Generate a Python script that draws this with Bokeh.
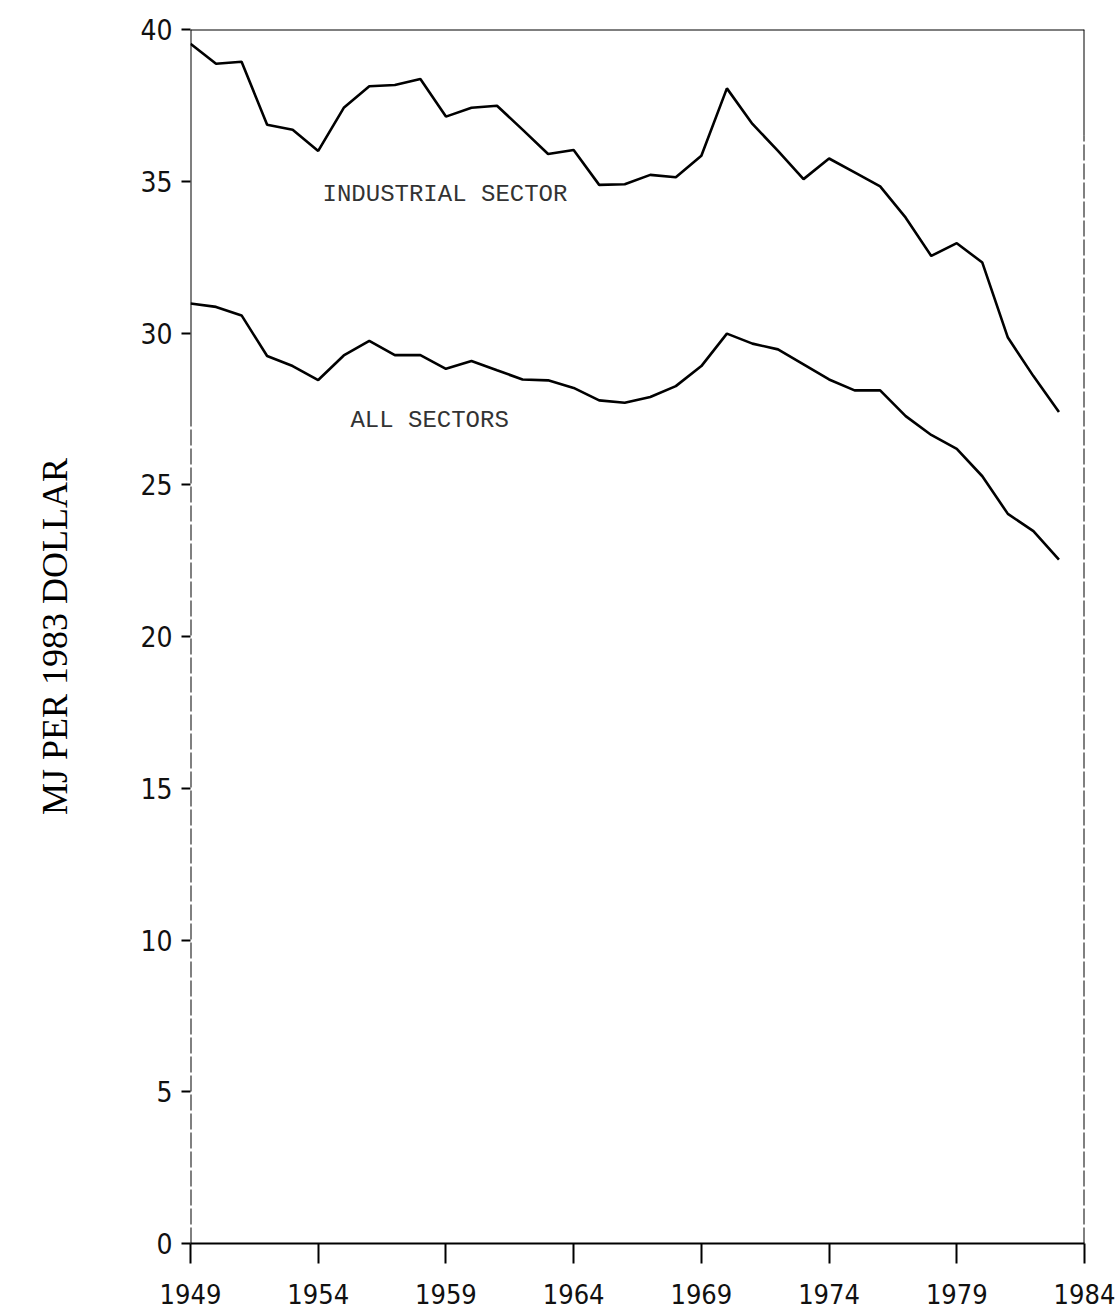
from bokeh.plotting import figure
from bokeh.models import Range1d, FixedTicker
from bokeh.embed import file_html
from bokeh.resources import INLINE
from bokeh.core.properties import value

# ---- data ----
years = list(range(1949, 1984))
industrial = [39.53, 38.87, 38.94, 36.86, 36.70, 36.00, 37.42, 38.13, 38.17, 38.37,
              37.13, 37.42, 37.49, 36.70, 35.90, 36.03, 34.88, 34.90, 35.21, 35.13,
              35.84, 38.06, 36.89, 36.00, 35.07, 35.75, 35.29, 34.83, 33.80, 32.54,
              32.96, 32.32, 29.85, 28.58, 27.40]
all_sectors = [30.97, 30.86, 30.58, 29.24, 28.91, 28.45, 29.26, 29.74, 29.27, 29.27,
               28.82, 29.08, 28.77, 28.47, 28.44, 28.19, 27.78, 27.70, 27.89, 28.25,
               28.91, 29.98, 29.65, 29.46, 28.97, 28.47, 28.11, 28.11, 27.26, 26.64,
               26.18, 25.28, 24.04, 23.47, 22.53]
x_ticks = [1949, 1954, 1959, 1964, 1969, 1974, 1979, 1984]
y_ticks = [0, 5, 10, 15, 20, 25, 30, 35, 40]
y_title = "MJ PER 1983 DOLLAR"
series_names = ["INDUSTRIAL SECTOR", "ALL SECTORS"]
name_x = [1954.17, 1955.26]
name_y = [34.56, 27.12]

X0, X1 = 1949, 1984
Y0, Y1 = 0, 40

TICK_FONT = "DejaVu Sans Condensed"

p = figure(width=1115, height=1315, output_backend="svg", toolbar_location=None,
           x_range=Range1d(X0, X1), y_range=Range1d(Y0, Y1),
           min_border_left=190, min_border_right=31, min_border_top=29,
           min_border_bottom=72)
p.grid.visible = False
p.outline_line_color = None
p.background_fill_color = "white"
p.border_fill_color = "white"

# x axis
xa = p.xaxis[0]
xa.ticker = FixedTicker(ticks=x_ticks)
xa.major_tick_out = 20
xa.major_tick_in = 0
xa.minor_tick_line_color = None
xa.axis_line_width = 2
xa.axis_line_color = "black"
xa.major_tick_line_width = 2
xa.major_label_text_font = TICK_FONT
xa.major_label_text_font_size = "27px"
xa.major_label_text_color = "#111111"
xa.major_label_standoff = 20

# y axis
ya = p.yaxis[0]
ya.ticker = FixedTicker(ticks=y_ticks)
ya.major_tick_out = 9
ya.major_tick_in = 0
ya.minor_tick_line_color = None
ya.axis_line_color = None
ya.major_tick_line_width = 2
ya.major_label_text_font = TICK_FONT
ya.major_label_text_font_size = "28px"
ya.major_label_text_color = "#111111"
ya.major_label_standoff = 9
ya.axis_label = y_title
ya.axis_label_text_font = "Liberation Serif"
ya.axis_label_text_font_style = "normal"
ya.axis_label_text_font_size = "36px"
ya.axis_label_text_color = "black"
ya.axis_label_standoff = 62

# frame lines (scan shows lower parts of the side borders broken)
p.segment(x0=[X0, X1], y0=[27, 36.5], x1=[X0, X1], y1=[Y1, Y1],
          line_color="black", line_width=2)
p.segment(x0=[X0, X1], y0=[Y0, Y0], x1=[X0, X1], y1=[27, 36.5],
          line_color="black", line_width=2, line_dash="16 3")
p.segment(x0=[X0], y0=[Y1], x1=[X1], y1=[Y1], line_color="black", line_width=2.2)

# data
p.line(years, industrial, line_color="black", line_width=2.6)
p.line(years, all_sectors, line_color="black", line_width=2.6)

p.text(x=name_x, y=name_y, text=series_names,
       text_font=value("Liberation Mono"), text_font_size="24px",
       text_baseline="alphabetic", text_align="left", text_color="#333333")

open("out.html", "w").write(file_html(p, INLINE))
